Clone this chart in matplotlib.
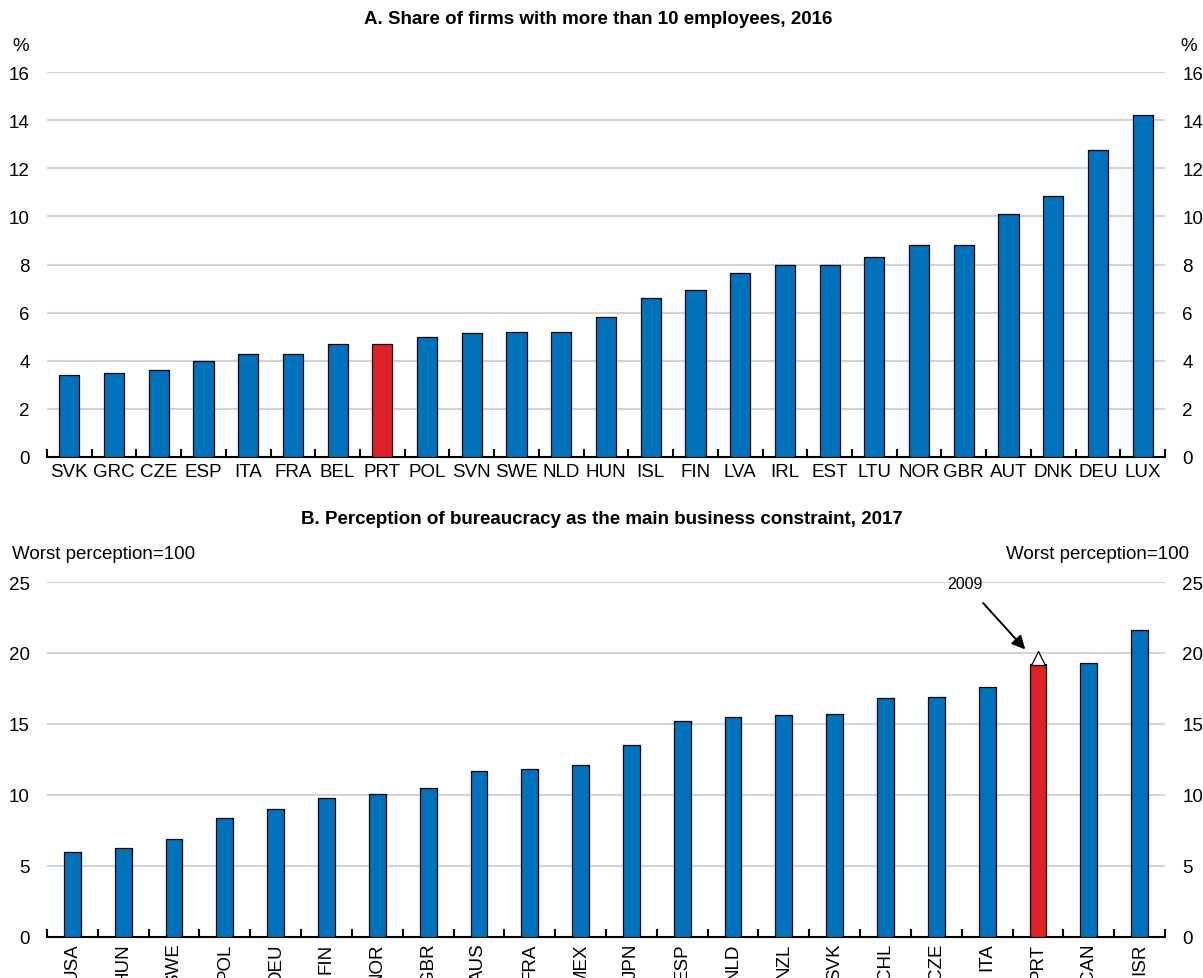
import matplotlib
matplotlib.use("Agg")
import matplotlib.pyplot as plt
import numpy as np
from matplotlib.ticker import FixedLocator

plt.rcParams['font.family'] = ['Liberation Sans', 'DejaVu Sans']

# Panel A data
a_countries = ["SVK", "GRC", "CZE", "ESP", "ITA", "FRA", "BEL", "PRT", "POL", "SVN", "SWE", "NLD",
               "HUN", "ISL", "FIN", "LVA", "IRL", "EST", "LTU", "NOR", "GBR", "AUT", "DNK", "DEU", "LUX"]
a_values = [3.4, 3.5, 3.6, 4.0, 4.3, 4.3, 4.7, 4.7, 5.0, 5.15, 5.2, 5.2,
            5.8, 6.6, 6.95, 7.65, 8.0, 8.0, 8.3, 8.8, 8.8, 10.1, 10.85, 12.75, 14.2]
a_yticks = [0, 2, 4, 6, 8, 10, 12, 14, 16]

# Panel B data
b_countries = ["USA", "HUN", "SWE", "POL", "DEU", "FIN", "NOR", "GBR", "AUS", "FRA", "MEX", "JPN",
               "ESP", "NLD", "NZL", "SVK", "CHL", "CZE", "ITA", "PRT", "CAN", "ISR"]
b_values = [6.0, 6.3, 6.9, 8.4, 9.0, 9.8, 10.1, 10.5, 11.7, 11.8, 12.1, 13.5,
            15.2, 15.5, 15.6, 15.7, 16.8, 16.9, 17.6, 19.2, 19.3, 21.6]
b_2009_country = "PRT"
b_2009_value = 19.65
b_yticks = [0, 5, 10, 15, 20, 25]

BLUE = '#0072BC'
RED = '#DE2027'
GRID = '#D4D4D4'
FS = 13.5

fig = plt.figure(figsize=(12.03, 9.79), dpi=100)
L, R = 47 / 1203, 1165 / 1203
axA = fig.add_axes([L, 1 - 458 / 979, R - L, (458 - 73) / 979])
axB = fig.add_axes([L, 1 - 938 / 979, R - L, (938 - 583) / 979])


def style(ax, n, yticks, ymax):
    ax.set_xlim(-0.5, n - 0.5)
    ax.set_ylim(0, ymax)
    ax.set_yticks(yticks)
    ax.yaxis.grid(True, color=GRID, lw=1.5)
    ax.set_axisbelow(True)
    for s in ['left', 'right', 'top']:
        ax.spines[s].set_visible(False)
    ax.spines['bottom'].set_linewidth(1.5)
    ax.spines['bottom'].set_color('black')
    ax.tick_params(axis='y', length=0, labelsize=FS, labelleft=True, labelright=True, pad=12.5)
    ax.tick_params(axis='x', which='major', length=0, labelsize=FS)
    ax.xaxis.set_minor_locator(FixedLocator(np.arange(-0.5, n, 1.0)))
    ax.tick_params(axis='x', which='minor', direction='in', length=6, width=1.5, color='black')


# Panel A
xa = np.arange(len(a_countries))
colA = [RED if c == "PRT" else BLUE for c in a_countries]
axA.bar(xa, a_values, width=0.45, color=colA, edgecolor='black', linewidth=0.9, zorder=3)
style(axA, len(a_countries), a_yticks, 16)
axA.set_xticks(xa)
axA.set_xticklabels(a_countries)
axA.tick_params(axis='x', which='major', pad=4)
axA.text(-0.0165, 1.07, "%", transform=axA.transAxes, ha='right', va='center', fontsize=FS)
axA.text(1.0135, 1.07, "%", transform=axA.transAxes, ha='left', va='center', fontsize=FS)
fig.text(0.497, 1 - 20 / 979, "A. Share of firms with more than 10 employees, 2016",
         ha='center', va='center', fontsize=FS, fontweight='bold')

# Panel B
xb = np.arange(len(b_countries))
colB = [RED if c == "PRT" else BLUE for c in b_countries]
axB.bar(xb, b_values, width=0.33, color=colB, edgecolor='black', linewidth=0.9, zorder=3)
style(axB, len(b_countries), b_yticks, 25)
axB.set_xticks(xb)
axB.set_xticklabels(b_countries, rotation=90)
axB.tick_params(axis='x', which='major', pad=4)
ip = b_countries.index(b_2009_country)
axB.plot([ip], [b_2009_value], marker='^', ms=10, mfc='white', mec='black', mew=0.9,
         linestyle='none', zorder=4, clip_on=False)
axB.annotate("2009", xy=(ip - 0.25, 20.25), xytext=(ip - 1.43, 24.9),
             fontsize=11.5, ha='center', va='center',
             arrowprops=dict(arrowstyle='-|>', color='black', lw=1.4, mutation_scale=20,
                             shrinkA=9, shrinkB=0))
axB.text(-0.031, 1.08, "Worst perception=100", transform=axB.transAxes, ha='left', va='center', fontsize=FS)
axB.text(1.022, 1.08, "Worst perception=100", transform=axB.transAxes, ha='right', va='center', fontsize=FS)
fig.text(0.5, 1 - 520 / 979, "B. Perception of bureaucracy as the main business constraint, 2017",
         ha='center', va='center', fontsize=FS, fontweight='bold')

fig.savefig("out.png", dpi=100)
